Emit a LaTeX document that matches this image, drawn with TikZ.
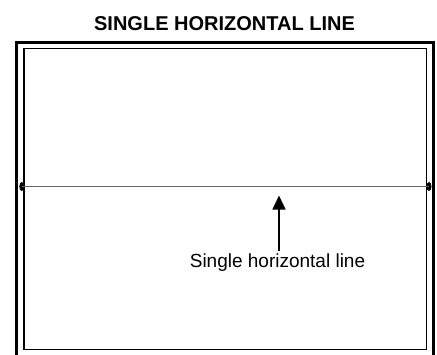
\documentclass[tikz,border=0pt]{standalone}
\usepackage{fontspec}
\setmainfont{Liberation Sans}
\usetikzlibrary{arrows.meta,shapes.geometric}
\begin{document}
\begin{tikzpicture}[x=1pt,y=-1pt,
  outerframe/.style={line width=3pt,draw=black},
  innerframe/.style={line width=1.8pt,draw=black},
  blob/.style={ellipse,fill=black,inner sep=0pt,minimum width=5pt,minimum height=9pt},
  hline/.style={line width=1.4pt,draw=black!60},
  pointer/.style={line width=1.5pt,-{Triangle[length=14pt,width=13pt]}},
  titletext/.style={font=\bfseries\fontsize{20}{24}\selectfont},
  labeltext/.style={font=\fontsize{19}{22}\selectfont}]
\useasboundingbox (0,0) rectangle (437,354);
\fill[white] (0,0) rectangle (437,354);
\node[titletext] (title) at (224.5,23.5) {SINGLE HORIZONTAL LINE};
\draw[outerframe] (16.5,42.5) rectangle (433.5,357);
\draw[innerframe] (24,48.5) rectangle (426.5,349.5);
\node[blob] (lb) at (21.8,186.5) {};
\node[blob] (rb) at (429,186.5) {};
\draw[hline] (lb.center) -- (rb.center);
\node[labeltext,inner sep=0pt,anchor=base] (lab) at (277.5,267) {Single horizontal line};
\coordinate (tip) at (279,195.5);
\draw[pointer] (lab.north -| tip) ++(0,-2) -- (tip);
\end{tikzpicture}
\end{document}
